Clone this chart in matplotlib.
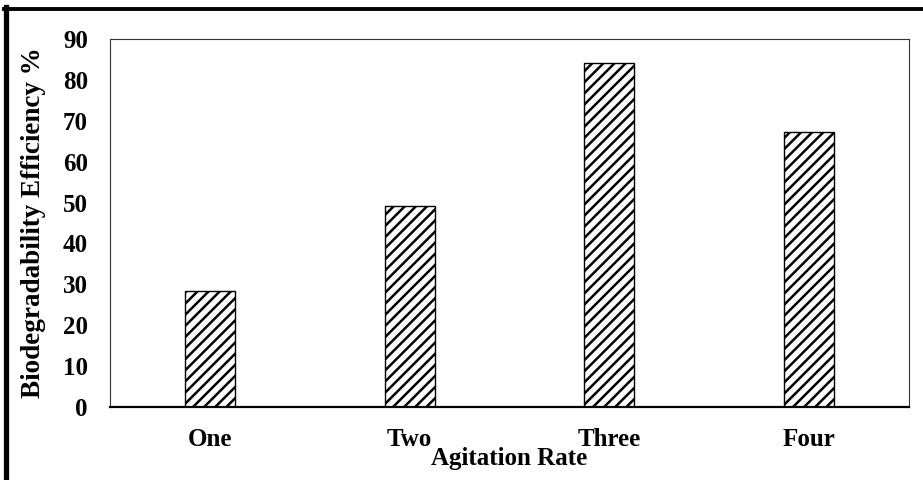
import matplotlib as mpl
mpl.use('Agg')
import matplotlib.pyplot as plt
from matplotlib.lines import Line2D
import numpy as np

categories = ["One", "Two", "Three", "Four"]
efficiency = [28.4, 49.1, 84.1, 67.2]
yticks = [0, 10, 20, 30, 40, 50, 60, 70, 80, 90]

plt.rc('font', family='Liberation Serif', weight='bold', size=18)
plt.rc('hatch', linewidth=1.8)

fig = plt.figure(figsize=(9.23, 4.8), dpi=100)
ax = fig.add_axes([110 / 923, 1 - 407 / 480, 799 / 923, 368 / 480])

x = np.arange(len(categories))
ax.bar(x, efficiency, width=0.25, color='white', edgecolor='black',
       linewidth=1.0, hatch='///')

ax.set_xlim(-0.5, 3.5)
ax.set_ylim(0, 90)
ax.set_yticks(yticks)
ax.set_xticks(x)
ax.set_xticklabels(categories)
ax.tick_params(axis='both', length=0, labelsize=18)
ax.tick_params(axis='y', pad=16)
ax.tick_params(axis='x', pad=15)

for s in ['left', 'top', 'right']:
    ax.spines[s].set_linewidth(0.8)
    ax.spines[s].set_color('#333333')
ax.spines['bottom'].set_linewidth(1.6)
ax.spines['bottom'].set_color('black')

ax.set_xlabel("Agitation Rate", fontsize=18, fontweight='bold', labelpad=-3)
ax.set_ylabel("Biodegradability Efficiency %", fontsize=19.5, fontweight='bold')
ax.yaxis.set_label_coords(-64 / 799, 0.5)

# outer frame on the left and top edges
fig.add_artist(Line2D([5.5 / 923, 5.5 / 923], [0, 1 - 7 / 480], color='black', lw=3.8))
fig.add_artist(Line2D([3.5 / 923, 1], [1 - 8.5 / 480, 1 - 8.5 / 480], color='black', lw=2.8))

fig.savefig('out.png', dpi=100)
